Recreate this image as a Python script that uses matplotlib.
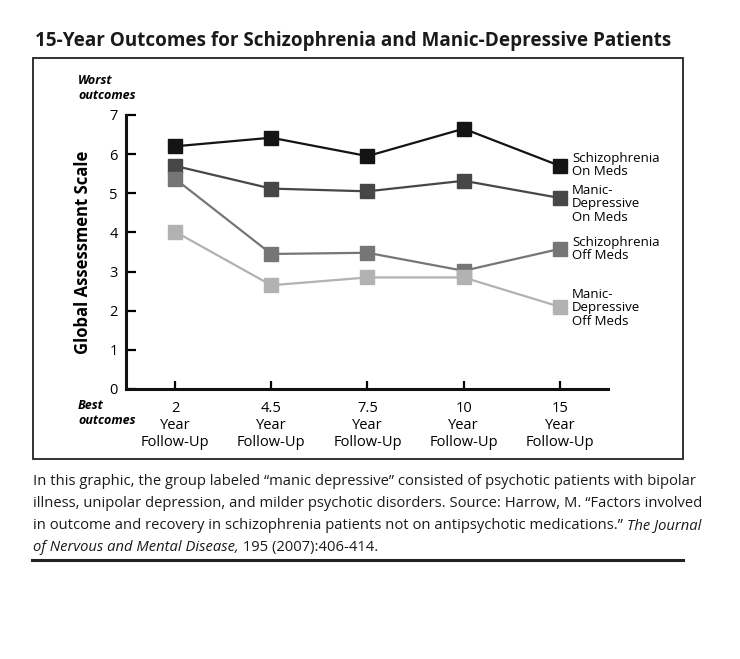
import matplotlib
matplotlib.use("Agg")
import matplotlib.pyplot as plt
from matplotlib.lines import Line2D
from matplotlib.patches import Rectangle

plt.rcParams['font.family'] = ['Open Sans', 'DejaVu Sans']

W, H = 740, 659

follow_up = ["2", "4.5", "7.5", "10", "15"]
tick_labels = [f"{f}\nYear\nFollow-Up" for f in follow_up]

schizo_on = [6.2, 6.42, 5.95, 6.65, 5.7]
manic_on = [5.7, 5.12, 5.05, 5.32, 4.88]
schizo_off = [5.37, 3.45, 3.48, 3.02, 3.58]
manic_off = [4.02, 2.65, 2.85, 2.85, 2.1]

series_names = ["Schizophrenia\nOn Meds", "Manic-\nDepressive\nOn Meds",
                "Schizophrenia\nOff Meds", "Manic-\nDepressive\nOff Meds"]
series_vals = [schizo_on, manic_on, schizo_off, manic_off]
colors = ["#141414", "#474747", "#767676", "#b2b2b2"]
label_y = [165, 204, 249, 308]  # pixel centres of the right-hand labels


def fx(px):
    return px / W


def fy(py):
    return 1 - py / H


fig = plt.figure(figsize=(W / 100, H / 100), dpi=100)

# title and frame
fig.text(fx(35), fy(46), "15-Year Outcomes for Schizophrenia and Manic-Depressive Patients",
         fontsize=13.6, fontweight='bold', color='#1a1a1a', va='baseline')
fig.patches.append(Rectangle((fx(33), fy(459)), fx(683) - fx(33), fy(58) - fy(459),
                             transform=fig.transFigure, fill=False, lw=1.3, ec='#222222'))

ax = fig.add_axes([fx(126), fy(389), fx(608) - fx(126), fy(115) - fy(389)])
xs = list(range(len(follow_up)))
for vals, c in zip(series_vals, colors):
    ax.plot(xs, vals, color=c, lw=1.6, marker='s', ms=9.5, mec=c, mfc=c, zorder=3)

ax.set_xlim(-0.51, 4.5)
ax.set_ylim(0, 7)
ax.set_yticks(range(8))
ax.set_xticks(xs)
ax.set_xticklabels(tick_labels, fontsize=10.5, linespacing=1.15)
ax.tick_params(axis='y', direction='in', length=7, width=1.6, labelsize=10.5, pad=6)
ax.tick_params(axis='x', direction='in', length=6, width=1.6, pad=9)
for s in ['top', 'right']:
    ax.spines[s].set_visible(False)
for s in ['left', 'bottom']:
    ax.spines[s].set_linewidth(2.2)
    ax.spines[s].set_color('#111111')
ax.set_ylabel("Global Assessment Scale", fontsize=12, fontweight='bold', labelpad=12)

for name, py in zip(series_names, label_y):
    fig.text(fx(572), fy(py), name, fontsize=9.5, va='center', ha='left', linespacing=1.05)

fig.text(fx(78), fy(88), "Worst\noutcomes", fontsize=9, fontstyle='italic', fontweight='bold',
         va='center', ha='left', linespacing=1.2)
fig.text(fx(78), fy(413), "Best\noutcomes", fontsize=9, fontstyle='italic', fontweight='bold',
         va='center', ha='left', linespacing=1.2)

# caption
cap = [
    ("In this graphic, the group labeled \u201cmanic depressive\u201d consisted of psychotic patients with bipolar", None),
    ("illness, unipolar depression, and milder psychotic disorders. Source: Harrow, M. \u201cFactors involved", None),
    ("in outcome and recovery in schizophrenia patients not on antipsychotic medications.\u201d ", "The Journal"),
    (None, "of Nervous and Mental Disease,"),
]
cap_y = [485, 507, 529, 551]
cap_fs = 10.6
for (plain, ital), py in zip(cap, cap_y):
    if plain is not None:
        t = fig.text(fx(33), fy(py), plain, fontsize=cap_fs, va='baseline', color='#1a1a1a')
        if ital is not None:
            fig.canvas.draw()
            bb = t.get_window_extent()
            fig.text(bb.x1 / W, fy(py), ital, fontsize=cap_fs, va='baseline', fontstyle='italic', color='#1a1a1a')
    else:
        t = fig.text(fx(33), fy(py), ital, fontsize=cap_fs, va='baseline', fontstyle='italic', color='#1a1a1a')
        fig.canvas.draw()
        bb = t.get_window_extent()
        fig.text(bb.x1 / W, fy(py), " 195 (2007):406-414.", fontsize=cap_fs, va='baseline', color='#1a1a1a')

fig.lines.append(Line2D([fx(32), fx(683)], [fy(560), fy(560)], transform=fig.transFigure,
                        lw=2.2, color='#222222'))

fig.savefig("out.png", dpi=100)
